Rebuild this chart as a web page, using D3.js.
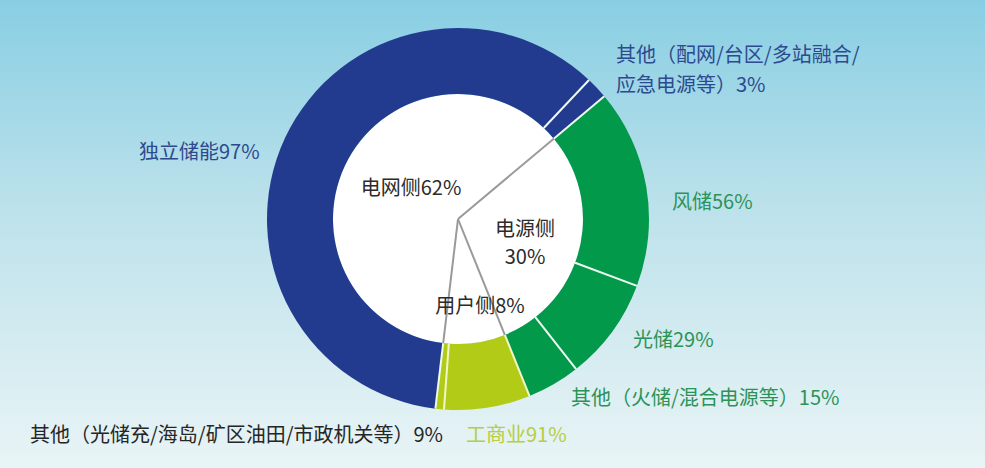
<!DOCTYPE html>
<html>
<head>
<meta charset="utf-8">
<script src="https://cdn.jsdelivr.net/npm/d3@7"></script>
<style>
  html, body { margin: 0; padding: 0; }
  body { width: 985px; height: 468px; overflow: hidden; }
</style>
</head>
<body>
<svg id="chart"></svg>
<script>
// inner ring: the three sides (share of total, %)
const sides = ['电源侧', '用户侧', '电网侧'];
const sideShares = [30, 8, 62];

// outer ring: breakdown within each side (% of that side)
const sourceSub = ['风储', '光储', '其他（火储/混合电源等）'];
const sourceShares = [56, 29, 15];
const userSub = ['工商业', '其他（光储充/海岛/矿区油田/市政机关等）'];
const userShares = [91, 9];
const gridSub = ['独立储能', '其他（配网/台区/多站融合/应急电源等）'];
const gridShares = [97, 3];

const width = 985;
const height = 468;
const cx = 458, cy = 219;
const rInner = 125, rOuter = 191;

const sideColors = { '电源侧': '#02994a', '用户侧': '#b1cb16', '电网侧': '#233b8f' };

const svg = d3.select('#chart')
  .attr('width', width)
  .attr('height', height)
  .style('font-family', '"Noto Sans CJK SC", "Noto Sans", sans-serif');

// background gradient
const grad = svg.append('defs').append('linearGradient')
  .attr('id', 'bg').attr('x1', 0).attr('y1', 0).attr('x2', 0).attr('y2', 1);
grad.append('stop').attr('offset', '0%').attr('stop-color', '#88cee3');
grad.append('stop').attr('offset', '45%').attr('stop-color', '#bde2eb');
grad.append('stop').attr('offset', '100%').attr('stop-color', '#e9f4f6');
svg.append('rect').attr('width', width).attr('height', height).attr('fill', 'url(#bg)');

// build outer segments
const outer = [];
[[sourceSub, sourceShares], [userSub, userShares], [gridSub, gridShares]].forEach(([names, vals], i) => {
  names.forEach((n, j) => outer.push({ side: sides[i], name: n, share: vals[j], value: sideShares[i] * vals[j] / 100 }));
});

const start = 50 * Math.PI / 180;
const pie = d3.pie().sort(null).value(d => d.value).startAngle(start).endAngle(start + 2 * Math.PI);
const arcs = pie(outer);

const g = svg.append('g').attr('transform', `translate(${cx},${cy})`);

g.append('circle').attr('r', rInner).attr('fill', '#fff');

const arc = d3.arc().innerRadius(rInner).outerRadius(rOuter);
g.selectAll('path.seg')
  .data(arcs)
  .enter()
  .append('path')
  .attr('class', 'seg')
  .attr('d', arc)
  .attr('fill', d => sideColors[d.data.side]);

// thin light separators between segments
g.selectAll('line.sep')
  .data(arcs)
  .enter()
  .append('line')
  .attr('x1', d => rInner * Math.sin(d.startAngle))
  .attr('y1', d => -rInner * Math.cos(d.startAngle))
  .attr('x2', d => rOuter * Math.sin(d.startAngle))
  .attr('y2', d => -rOuter * Math.cos(d.startAngle))
  .style('stroke', d => d.data.side === '用户侧' ? '#f2f7c8' : '#eef9f0')
  .style('stroke-width', 2);

// side boundaries inside the white circle
const sideArcs = d3.pie().sort(null).startAngle(start).endAngle(start + 2 * Math.PI)(sideShares);
g.selectAll('line.div')
  .data(sideArcs)
  .enter()
  .append('line')
  .attr('x1', 0).attr('y1', 0)
  .attr('x2', d => rInner * Math.sin(d.startAngle))
  .attr('y2', d => -rInner * Math.cos(d.startAngle))
  .style('stroke', '#9a9a9a')
  .style('stroke-width', 2);

// inner labels
const innerPos = {
  '电源侧': { x: 525, y: 236, two: true },
  '用户侧': { x: 480, y: 313 },
  '电网侧': { x: 411, y: 195 }
};
sides.forEach((s, i) => {
  const p = innerPos[s];
  const t = svg.append('text')
    .attr('x', p.x).attr('y', p.y)
    .attr('text-anchor', 'middle')
    .style('font-size', '20px')
    .style('fill', '#2b2b2b');
  if (p.two) {
    t.append('tspan').attr('x', p.x).text(s);
    t.append('tspan').attr('x', p.x).attr('dy', 28).text(sideShares[i] + '%');
  } else {
    t.text(s + sideShares[i] + '%');
  }
});

// outer labels
const outerPos = {
  '风储': { x: 672, y: 209, c: '#2c9358' },
  '光储': { x: 633, y: 347, c: '#2c9358' },
  '其他（火储/混合电源等）': { x: 571, y: 405, c: '#2c9358' },
  '工商业': { x: 466, y: 442, c: '#b6ce40' },
  '其他（光储充/海岛/矿区油田/市政机关等）': { x: 30, y: 442, c: '#262626' },
  '独立储能': { x: 139, y: 159, c: '#2e4a8e' },
  '其他（配网/台区/多站融合/应急电源等）': { x: 616, y: 62, c: '#2e4a8e', split: 14 }
};
outer.forEach(d => {
  const p = outerPos[d.name];
  const t = svg.append('text')
    .attr('x', p.x).attr('y', p.y)
    .style('font-size', '20px')
    .style('fill', p.c);
  const label = d.name + d.share + '%';
  if (p.split) {
    t.append('tspan').attr('x', p.x).text(label.slice(0, p.split));
    t.append('tspan').attr('x', p.x).attr('dy', 30).text(label.slice(p.split));
  } else {
    t.text(label);
  }
});
</script>
</body>
</html>
